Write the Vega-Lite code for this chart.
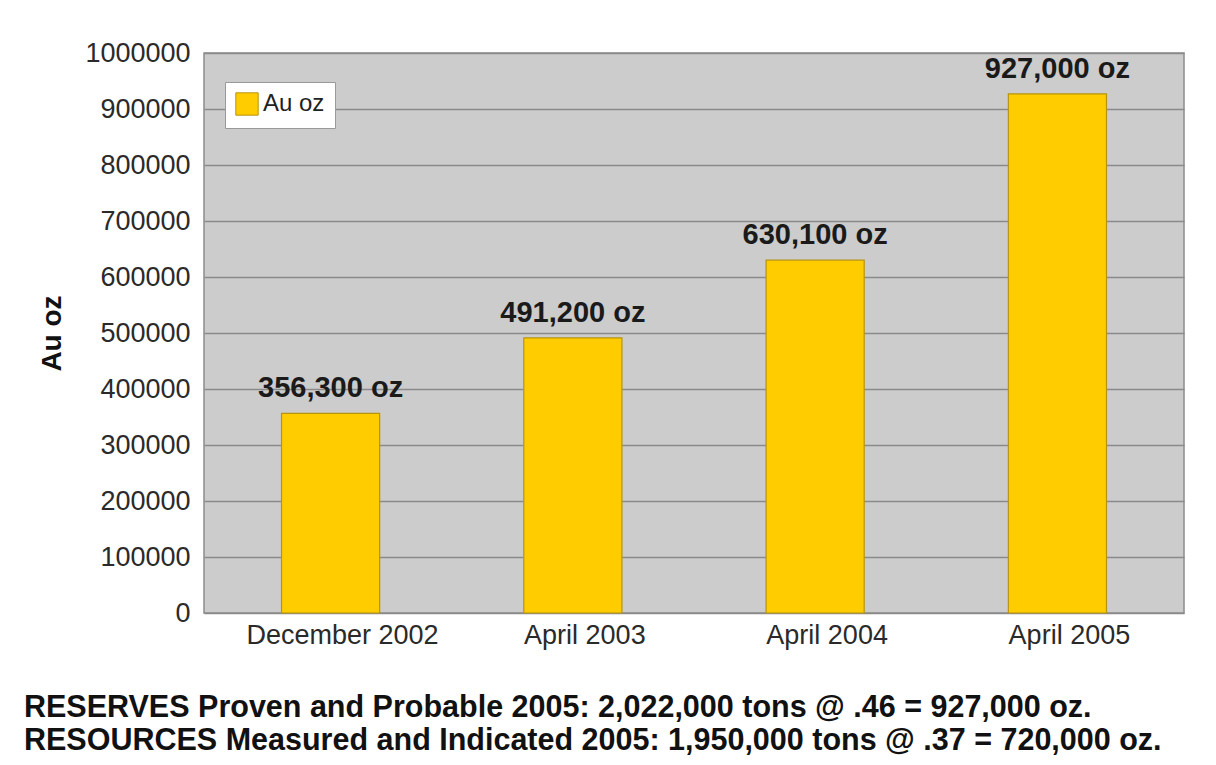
{
  "$schema": "https://vega.github.io/schema/vega-lite/v6.json",
  "autosize": {"type": "none"},
  "padding": {"left": 204, "top": 53, "right": 32, "bottom": 152},
  "width": 980,
  "height": 560,
  "background": "white",
  "data": {
    "values": [
      {"period": "December 2002", "oz": 356300, "label": "356,300 oz", "series": "Au oz"},
      {"period": "April 2003", "oz": 491200, "label": "491,200 oz", "series": "Au oz"},
      {"period": "April 2004", "oz": 630100, "label": "630,100 oz", "series": "Au oz"},
      {"period": "April 2005", "oz": 927000, "label": "927,000 oz", "series": "Au oz"}
    ]
  },
  "title": {
    "text": [
      "RESERVES Proven and Probable 2005: 2,022,000 tons @ .46 = 927,000 oz.",
      "RESOURCES Measured and Indicated 2005: 1,950,000 tons @ .37 = 720,000 oz."
    ],
    "orient": "bottom",
    "anchor": "start",
    "frame": "group",
    "dx": -180,
    "offset": 45,
    "font": "Liberation Sans",
    "fontSize": 30.5,
    "fontWeight": "bold",
    "color": "#111111",
    "lineHeight": 33
  },
  "encoding": {
    "x": {
      "field": "period",
      "type": "nominal",
      "sort": null,
      "scale": {"paddingInner": 0.595, "paddingOuter": 0.32},
      "axis": {
        "title": null,
        "labelAngle": 0,
        "labelLimit": 0,
        "labelFont": "Liberation Sans",
        "labelFontSize": 27,
        "labelColor": "#2a2a2a",
        "labelPadding": 9,
        "labelOffset": 12,
        "ticks": false,
        "domain": false,
        "grid": false,
        "encode": {
          "labels": {
            "update": {"dy": {"signal": "datum.value === 'December 2002' ? 5 : 0"}}
          }
        }
      }
    },
    "y": {
      "field": "oz",
      "type": "quantitative",
      "scale": {"domain": [0, 1000000], "nice": false},
      "axis": {
        "title": "Au oz",
        "titleFont": "Liberation Sans",
        "titleFontSize": 28,
        "titleFontWeight": "bold",
        "titleColor": "#111111",
        "titlePadding": 18,
        "format": "d",
        "values": [0, 100000, 200000, 300000, 400000, 500000, 600000, 700000, 800000, 900000, 1000000],
        "labelFont": "Liberation Sans",
        "labelFontSize": 27,
        "labelColor": "#2a2a2a",
        "labelPadding": 14,
        "ticks": false,
        "domain": false,
        "grid": true,
        "gridColor": "#8a8a8a",
        "gridWidth": 1.3
      }
    }
  },
  "layer": [
    {
      "mark": {"type": "bar", "stroke": "#b8940c", "strokeWidth": 1.2},
      "encoding": {
        "color": {
          "field": "series",
          "type": "nominal",
          "scale": {"range": ["#ffcc00"]},
          "legend": {
            "title": null,
            "orient": "none",
            "legendX": 21,
            "legendY": 29,
            "fillColor": "white",
            "strokeColor": "#999999",
            "padding": 10,
            "symbolType": "square",
            "symbolSize": 500,
            "symbolStrokeColor": "#b8940c",
            "symbolStrokeWidth": 1,
            "labelFont": "Liberation Sans",
            "labelFontSize": 24,
            "labelColor": "#222222"
          }
        }
      }
    },
    {
      "mark": {
        "type": "text",
        "baseline": "bottom",
        "dy": -10,
        "font": "Liberation Sans",
        "fontSize": 29,
        "fontWeight": "bold",
        "color": "#1a1a1a"
      },
      "encoding": {"text": {"field": "label"}}
    }
  ],
  "config": {
    "view": {"fill": "#cccccc", "stroke": "#8c8c8c", "strokeWidth": 1.5}
  }
}
